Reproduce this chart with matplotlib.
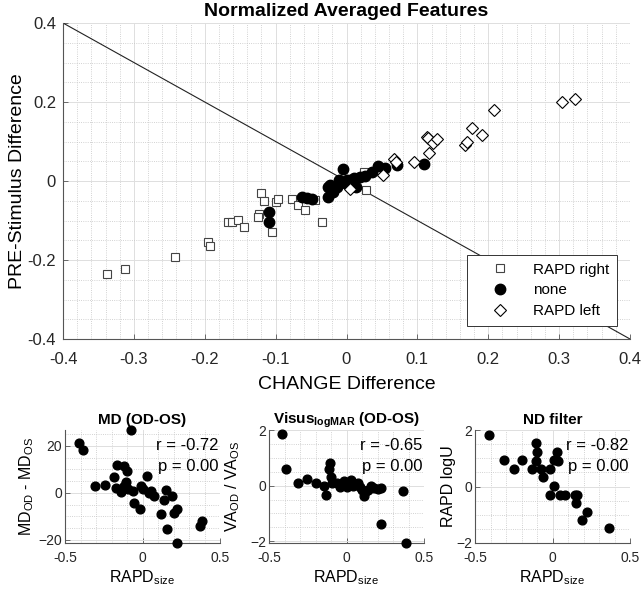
import matplotlib
matplotlib.use("Agg")
from matplotlib import pyplot as plt
from matplotlib.ticker import MultipleLocator

plt.rcParams['font.family'] = ['Liberation Sans', 'DejaVu Sans']
plt.rcParams['mathtext.default'] = 'regular'

# main plot: RAPD right (squares)
right_x = [-0.338, -0.312, -0.242, -0.195, -0.193, -0.167, -0.161, -0.153, -0.144,
           -0.124, -0.125, -0.120, -0.116, -0.105, -0.099, -0.096, -0.077, -0.068,
           -0.059, -0.044, -0.034, 0.025, 0.028]
right_y = [-0.235, -0.224, -0.193, -0.154, -0.164, -0.105, -0.105, -0.099, -0.116,
           -0.084, -0.090, -0.030, -0.051, -0.129, -0.054, -0.045, -0.046, -0.061,
           -0.073, -0.048, -0.105, 0.024, -0.024]

# none (filled circles)
none_x = [-0.109, -0.110, -0.063, -0.056, -0.049, -0.026, -0.026, -0.023, -0.019,
          -0.014, -0.011, -0.005, -0.002, 0.000, 0.005, 0.010, 0.014, 0.019, 0.026,
          0.036, 0.045, 0.054, 0.071, 0.110]
none_y = [-0.079, -0.105, -0.040, -0.044, -0.046, -0.040, -0.014, -0.010, -0.027,
          -0.014, 0.003, 0.030, -0.006, 0.003, 0.003, 0.007, -0.014, 0.011, 0.013,
          0.024, 0.038, 0.034, 0.040, 0.043]

# RAPD left (diamonds)
left_x = [0.005, 0.052, 0.067, 0.070, 0.095, 0.117, 0.113, 0.115, 0.122, 0.128,
          0.167, 0.170, 0.177, 0.191, 0.208, 0.304, 0.323]
left_y = [-0.020, 0.015, 0.055, 0.048, 0.047, 0.070, 0.112, 0.108, 0.095, 0.106,
          0.091, 0.100, 0.135, 0.116, 0.180, 0.201, 0.208]

# bottom panels
md_x = [-0.41, -0.383, -0.304, -0.245, -0.181, -0.164, -0.117, -0.10, -0.074, -0.17,
        -0.138, -0.117, -0.096, -0.106, -0.064, -0.053, -0.015, -0.011, 0.0, 0.032,
        0.043, 0.074, 0.053, 0.117, 0.138, 0.149, 0.16, 0.19, 0.202, 0.223, 0.223,
        0.368, 0.383]
md_y = [21.1, 18.3, 2.8, 3.5, 6.8, 12.0, 11.3, 9.2, 26.8, 2.1, 0.3, 3.1, 1.7, 4.5,
        0.7, -4.5, -7.0, 3.1, 1.7, 7.3, 0.0, -1.4, 0.7, -9.2, -3.1, 1.1, -15.5, -1.4,
        -8.5, -7.0, -21.4, -14.1, -12.0]

va_x = [-0.416, -0.388, -0.315, -0.254, -0.20, -0.147, -0.13, -0.108, -0.114, -0.103,
        -0.093, -0.06, -0.039, -0.013, 0.004, 0.026, 0.043, 0.073, 0.09, 0.116, 0.138,
        0.159, 0.177, 0.203, 0.224, 0.22, 0.364, 0.386, 0.123, 0.10]
va_y = [1.85, 0.59, 0.09, 0.24, 0.09, 0.0, -0.32, 0.80, 0.59, 0.31, 0.09, 0.09, -0.05,
        0.15, -0.05, 0.21, 0.0, 0.09, -0.05, -0.36, -0.14, 0.0, -0.08, -0.12, -0.08,
        -1.38, -0.2, -2.06, -0.2, -0.14]

nd_x = [-0.41, -0.31, -0.25, -0.198, -0.134, -0.106, -0.098, -0.106, -0.074, -0.064,
        -0.013, 0.0085, 0.03, 0.038, 0.0085, -0.017, 0.047, 0.079, 0.143, 0.157, 0.153,
        0.221, 0.191, 0.362]
nd_y = [1.82, 0.93, 0.61, 0.93, 0.61, 1.53, 1.22, 0.91, 0.61, 0.32, 0.61, 0.93, 1.22,
        0.91, 0.02, -0.29, -0.29, -0.29, -0.29, -0.29, -0.59, -0.89, -1.19, -1.48]

panels = [
    ("MD (OD-OS)", "MD$_{OD}$ - MD$_{OS}$", md_x, md_y, (-21.4, 26.8), 20, 5, "r = -0.72", -0.19),
    ("Visus$_{logMAR}$ (OD-OS)", "VA$_{OD}$ / VA$_{OS}$", va_x, va_y, (-2.06, 2.0), 2, 0.5, "r = -0.65", -0.175),
    ("ND filter", "RAPD logU", nd_x, nd_y, (-2.0, 2.0), 2, 0.5, "r = -0.82", -0.125),
]


def style_axes(ax, lsize, xpad, ypad):
    ax.spines['top'].set_visible(False)
    ax.spines['right'].set_visible(False)
    for s in ('left', 'bottom'):
        ax.spines[s].set_color('#555555')
        ax.spines[s].set_linewidth(0.8)
    ax.tick_params(which='major', direction='in', length=3.5, width=0.6,
                   color='#555555', labelsize=lsize, labelcolor='#262626')
    ax.tick_params(axis='x', which='major', pad=xpad)
    ax.tick_params(axis='y', which='major', pad=ypad)
    ax.tick_params(which='minor', length=0)
    ax.grid(which='major', color='#dedede', linewidth=0.7)
    ax.grid(which='minor', color='#c4c4c4', linestyle=':', linewidth=0.6)
    ax.set_axisbelow(True)


fig = plt.figure(figsize=(6.44, 5.90), dpi=100)

ax = fig.add_axes([63 / 644, 1 - 339 / 590, 567 / 644, 316 / 590])
ax.plot([-0.4, 0.4], [0.4, -0.4], color='#222222', linewidth=0.8, zorder=1)
ax.plot(right_x, right_y, 's', markersize=5.8, markerfacecolor='white',
        markeredgecolor='#444444', markeredgewidth=0.8, label='RAPD right', zorder=3)
ax.plot(none_x, none_y, 'o', markersize=7.5, markerfacecolor='black',
        markeredgecolor='black', label='none', zorder=3)
ax.plot(left_x, left_y, 'D', markersize=6.5, markerfacecolor='white',
        markeredgecolor='black', markeredgewidth=0.8, label='RAPD left', zorder=3)
ax.set_xlim(-0.4, 0.4)
ax.set_ylim(-0.4, 0.4)
ax.xaxis.set_minor_locator(MultipleLocator(0.02))
ax.yaxis.set_minor_locator(MultipleLocator(0.05))
style_axes(ax, 12, 9, 5)
ax.set_xticks([-0.4, -0.3, -0.2, -0.1, 0, 0.1, 0.2, 0.3, 0.4])
ax.set_xticklabels(['-0.4', '-0.3', '-0.2', '-0.1', '0', '0.1', '0.2', '0.3', '0.4'])
ax.set_yticks([-0.4, -0.2, 0, 0.2, 0.4])
ax.set_yticklabels(['-0.4', '-0.2', '0', '0.2', '0.4'])
ax.set_title('Normalized Averaged Features', fontsize=14, fontweight='bold', pad=5)
ax.set_xlabel('CHANGE Difference', fontsize=14, labelpad=6.5)
ax.set_ylabel('PRE-Stimulus Difference', fontsize=14)
ax.yaxis.set_label_coords(-0.065, 0.5)
leg = ax.legend(loc='lower right', bbox_to_anchor=(1 - 13 / 567, 13 / 316),
                borderaxespad=0, fontsize=11, fancybox=False, framealpha=1,
                handlelength=3.2, handletextpad=0.6, labelspacing=0.45,
                borderpad=0.5)
leg.get_frame().set_edgecolor('#333333')
leg.get_frame().set_linewidth(0.7)

lefts = [65, 269, 475]
for left, (title, ylab, xs, ys, ylim, ymaj, ymin, rtxt, ylx) in zip(lefts, panels):
    bx = fig.add_axes([left / 644, 1 - 543 / 590, 155 / 644, 113 / 590])
    bx.plot(xs, ys, 'o', markersize=6.3, color='black', clip_on=False, zorder=3)
    bx.set_xlim(-0.5, 0.5)
    bx.set_ylim(*ylim)
    bx.set_xticks([-0.5, 0, 0.5])
    bx.set_xticklabels(['-0.5', '0', '0.5'])
    bx.xaxis.set_minor_locator(MultipleLocator(0.1))
    bx.yaxis.set_major_locator(MultipleLocator(ymaj))
    bx.yaxis.set_minor_locator(MultipleLocator(ymin))
    style_axes(bx, 10, 6, 2)
    bx.set_title(title, fontsize=11, fontweight='bold', pad=4)
    bx.set_xlabel('RAPD$_{size}$', fontsize=11.5, labelpad=2)
    bx.set_ylabel(ylab, fontsize=11.5)
    bx.yaxis.set_label_coords(ylx, 0.5)
    bx.text(0.99, 0.86, rtxt, transform=bx.transAxes, ha='right', va='center',
            fontsize=12, zorder=4)
    bx.text(0.99, 0.68, 'p = 0.00', transform=bx.transAxes, ha='right', va='center',
            fontsize=12, zorder=4)

fig.savefig('out.png', dpi=100)
